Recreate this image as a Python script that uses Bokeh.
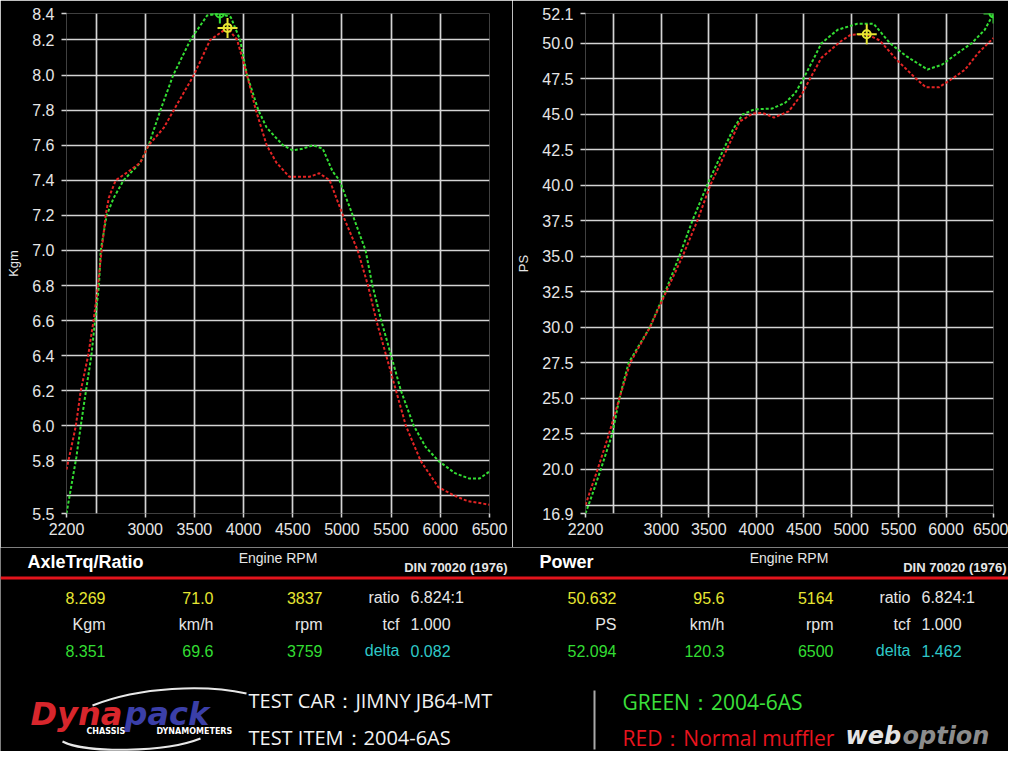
from bokeh.plotting import figure
from bokeh.layouts import column, row
from bokeh.models import Range1d, FixedTicker
from bokeh.core.properties import value
from bokeh.embed import file_html
from bokeh.resources import INLINE

# ---------------- data ----------------
rpm_ticks = [2200, 3000, 3500, 4000, 4500, 5000, 5500, 6000, 6500]
rpm_grid = [2500, 3000, 3500, 4000, 4500, 5000, 5500, 6000, 6500]

trq_green_rpm = [2200, 2300, 2345, 2398, 2453, 2490, 2530, 2548, 2608, 2680, 2780, 2950, 3035,
                 3155, 3285, 3460, 3630, 3759, 3870, 3965, 4035, 4150, 4235, 4400, 4500, 4600,
                 4705, 4805, 4905, 4975, 5110, 5240, 5310, 5400, 5500, 5600, 5730, 5850, 5980,
                 6150, 6290, 6400, 6500]
trq_green = [5.50, 5.82, 6.00, 6.20, 6.40, 6.60, 6.80, 7.00, 7.20, 7.30, 7.40, 7.50, 7.60,
             7.80, 8.00, 8.20, 8.34, 8.351, 8.33, 8.20, 8.00, 7.80, 7.70, 7.60, 7.57, 7.58,
             7.60, 7.58, 7.45, 7.40, 7.20, 7.00, 6.80, 6.60, 6.40, 6.20, 6.00, 5.88, 5.80,
             5.73, 5.70, 5.70, 5.74]

trq_red_rpm = [2200, 2250, 2295, 2345, 2420, 2475, 2520, 2557, 2598, 2630, 2700, 2830, 2950,
               3035, 3190, 3290, 3495, 3660, 3837, 3935, 4035, 4125, 4235, 4335, 4465, 4670,
               4770, 4875, 5010, 5160, 5265, 5350, 5450, 5550, 5650, 5800, 5980, 6150, 6280,
               6400, 6500]
trq_red = [5.75, 5.88, 6.00, 6.20, 6.40, 6.60, 6.80, 7.00, 7.20, 7.30, 7.40, 7.45, 7.50,
           7.60, 7.70, 7.80, 8.00, 8.20, 8.269, 8.20, 8.00, 7.80, 7.60, 7.50, 7.42, 7.42,
           7.44, 7.40, 7.20, 7.00, 6.80, 6.60, 6.40, 6.20, 6.00, 5.80, 5.65, 5.60, 5.57,
           5.56, 5.55]

pwr_green_rpm = [2200, 2280, 2361, 2482, 2557, 2654, 2878, 3040, 3188, 3326, 3481, 3653, 3760,
                 3859, 3980, 4166, 4307, 4411, 4496, 4600, 4686, 4858, 5065, 5237, 5409, 5581,
                 5805, 5960, 6120, 6270, 6408, 6500]
pwr_green = [16.9, 18.4, 20.0, 22.5, 25.0, 27.5, 30.0, 32.5, 35.0, 37.5, 40.0, 42.5, 44.0,
             45.0, 45.35, 45.4, 45.82, 46.5, 47.5, 48.85, 50.0, 50.95, 51.37, 51.37, 50.0, 49.09,
             48.15, 48.5, 49.3, 50.0, 50.95, 52.094]

pwr_red_rpm = [2200, 2327, 2448, 2557, 2671, 2878, 3050, 3223, 3378, 3515, 3688, 3825, 3963,
               4066, 4186, 4341, 4479, 4566, 4686, 4892, 4996, 5164, 5300, 5478, 5685, 5788,
               5925, 6064, 6201, 6339, 6500]
pwr_red = [17.5, 20.0, 22.5, 25.0, 27.5, 30.0, 32.5, 35.0, 37.5, 40.0, 42.5, 44.49, 45.05,
           45.1, 44.77, 45.2, 46.4, 47.5, 48.97, 50.14, 50.6, 50.632, 50.2, 48.85, 47.5, 46.9,
           46.9, 47.5, 48.15, 49.32, 50.37]

trq_inner_ticks = [5.8, 6.0, 6.2, 6.4, 6.6, 6.8, 7.0, 7.2, 7.4, 7.6, 7.8, 8.0, 8.2]
trq_end_labels = ["5.5", "8.4"]
trq_grid = [5.6, 5.8, 6.0, 6.2, 6.4, 6.6, 6.8, 7.0, 7.2, 7.4, 7.6, 7.8, 8.0, 8.2]

pwr_inner_ticks = [20.0, 22.5, 25.0, 27.5, 30.0, 32.5, 35.0, 37.5, 40.0, 42.5, 45.0, 47.5, 50.0]
pwr_end_labels = ["16.9", "52.1"]
pwr_grid = [17.45, 20.0, 22.5, 25.0, 27.5, 30.0, 32.5, 35.0, 37.5, 40.0, 42.5, 45.0, 47.5, 50.0]

# cursor readouts: value, km/h, rpm
trq_red_cursor = [8.269, 71.0, 3837]
trq_green_cursor = [8.351, 69.6, 3759]
pwr_red_cursor = [50.632, 95.6, 5164]
pwr_green_cursor = [52.094, 120.3, 6500]
ratio_text = "6.824:1"
tcf_value = 1.000
trq_delta = 0.082
pwr_delta = 1.462

# ---------------- style ----------------
BG = "#000000"
GRID = "#d4d4d4"
TXT = "#e6e6e6"
GREEN = "#33dd33"
RED = "#e42424"
YELLOW = "#e6e632"
CYAN = "#2ec8c8"
NARROW = "'Liberation Sans Narrow', 'Arial Narrow', 'Liberation Sans', sans-serif"
SANS = "Liberation Sans"
H_PLOT = 547


def make_chart(xg, yg, xr, yr, inner, end_labels, grid_vals, ylabel, width, mbl, mbr,
               cur_r, cur_g):
    ymin = min(min(yg), min(yr))
    ymax = max(max(yg), max(yr))
    p = figure(width=width, height=H_PLOT, x_range=Range1d(2200, 6500),
               y_range=Range1d(ymin, ymax), output_backend="svg", toolbar_location=None,
               min_border_left=mbl, min_border_right=mbr, min_border_top=13,
               min_border_bottom=H_PLOT - 513, background_fill_color=BG,
               border_fill_color=BG, outline_line_color=None)
    # grid
    p.xgrid.ticker = FixedTicker(ticks=rpm_grid)
    p.ygrid.ticker = FixedTicker(ticks=grid_vals)
    p.grid.grid_line_color = GRID
    p.grid.grid_line_width = 1.7
    # x axis
    p.xaxis.ticker = FixedTicker(ticks=rpm_ticks)
    # y axis
    yt = [ymin] + inner + [ymax]
    ylbl = [end_labels[0]] + ["%.1f" % t for t in inner] + [end_labels[1]]
    p.yaxis.ticker = FixedTicker(ticks=yt)
    p.yaxis.major_label_overrides = {t: s for t, s in zip(yt, ylbl)}
    p.yaxis.axis_label = ylabel
    for ax in (p.xaxis, p.yaxis):
        ax.axis_line_color = None
        ax.major_tick_line_color = GRID
        ax.major_tick_line_width = 1.5
        ax.major_tick_in = 0
        ax.minor_tick_line_color = None
        ax.major_label_text_font = NARROW
        ax.major_label_text_font_size = "16px"
        ax.major_label_text_color = TXT
        ax.axis_label_text_font = NARROW
        ax.axis_label_text_font_style = "normal"
        ax.axis_label_text_color = TXT
    p.xaxis.major_tick_out = 4
    p.xaxis.major_label_standoff = 5
    p.yaxis.major_tick_out = 5
    p.yaxis.major_label_standoff = 7
    p.yaxis.axis_label_text_font_size = "13px"
    p.yaxis.axis_label_standoff = 8

    # curves
    p.line(xg, yg, line_color=GREEN, line_width=2, line_dash="3 2")
    p.line(xr, yr, line_color=RED, line_width=2, line_dash="3 2")

    # cursor markers
    p.scatter([cur_g[2]], [cur_g[0]], marker="cross", size=20, line_color=GREEN, line_width=2)
    p.scatter([cur_g[2]], [cur_g[0]], marker="circle", size=8, fill_color=None,
              line_color=GREEN, line_width=2)
    p.scatter([cur_r[2]], [cur_r[0]], marker="cross", size=20, line_color=YELLOW, line_width=2)
    p.scatter([cur_r[2]], [cur_r[0]], marker="circle", size=8, fill_color=None,
              line_color=YELLOW, line_width=2)
    return p


p1 = make_chart(trq_green_rpm, trq_green, trq_red_rpm, trq_red, trq_inner_ticks,
                trq_end_labels, trq_grid, "Kgm", 512, 66, 23, trq_red_cursor, trq_green_cursor)
p2 = make_chart(pwr_green_rpm, pwr_green, pwr_red_rpm, pwr_red, pwr_inner_ticks,
                pwr_end_labels, pwr_grid, "PS", 496, 73, 15, pwr_red_cursor, pwr_green_cursor)

# ---------------- info panel (coordinates = picture pixels) ----------------
info = figure(width=1008, height=204, x_range=Range1d(0, 1008), y_range=Range1d(751, 547),
              output_backend="svg", toolbar_location=None, x_axis_type=None, y_axis_type=None,
              min_border=0, min_border_left=0, min_border_right=0, min_border_top=0,
              min_border_bottom=0, background_fill_color=BG, border_fill_color=BG,
              outline_line_color=None)
info.grid.visible = False


def put(xs, ys, texts, colors, size, font, align="left", style="normal"):
    info.text(x=xs, y=ys, text=texts, text_color=colors, text_font=value(font),
              text_font_size=size, text_font_style=style, text_align=align,
              text_baseline="middle")


# axis titles, section titles, standard
put([277.5, 788.5], [557.5, 557.5], ["Engine RPM", "Engine RPM"], [TXT, TXT], "14px", NARROW,
    "center")
put([27, 539], [561, 561], ["AxleTrq/Ratio", "Power"], ["#ffffff", "#ffffff"], "18px", SANS,
    "left", "bold")
put([507, 1006], [566.5, 566.5], ["DIN 70020 (1976)", "DIN 70020 (1976)"], [TXT, TXT],
    "13px", SANS, "right", "bold")
info.segment(x0=[0], y0=[577.5], x1=[1008], y1=[577.5], line_color="#e3141c", line_width=3)

row_y = [597, 623.5, 650]
for off, unit, red_c, green_c, delta in ((0, "Kgm", trq_red_cursor, trq_green_cursor, trq_delta),
                                         (511, "PS", pwr_red_cursor, pwr_green_cursor, pwr_delta)):
    cols = [105 + off, 213 + off, 322 + off, 399 + off]
    vx = 410 + off
    r1 = ["%.3f" % red_c[0], "%.1f" % red_c[1], "%d" % red_c[2], "ratio"]
    r2 = [unit, "km/h", "rpm", "tcf"]
    r3 = ["%.3f" % green_c[0], "%.1f" % green_c[1], "%d" % green_c[2], "delta"]
    put(cols, [row_y[0]] * 4, r1, [YELLOW, YELLOW, YELLOW, TXT], "16px", SANS, "right")
    put(cols, [row_y[1]] * 4, r2, [TXT] * 4, "16px", SANS, "right")
    put(cols, [row_y[2]] * 4, r3, [GREEN, GREEN, GREEN, CYAN], "16px", SANS, "right")
    put([vx, vx, vx], row_y, [ratio_text, "%.3f" % tcf_value, "%.3f" % delta],
        [TXT, TXT, CYAN], "16px", SANS, "left")

# test description
put([248, 248], [700, 737], ["TEST CAR：JIMNY JB64-MT", "TEST ITEM：2004-6AS"],
    ["#f2f2f2", "#f2f2f2"], "20px", "Open Sans")
info.segment(x0=[594], y0=[690], x1=[594], y1=[749], line_color="#a8a8a8", line_width=2)
put([622, 622], [701, 737], ["GREEN：2004-6AS", "RED：Normal muffler"],
    ["#3be03b", "#e8141e"], "21px", "Open Sans")

# Dynapack logo
info.bezier(x0=[92, 62], y0=[705, 741], x1=[246, 200], y1=[693, 738],
            cx0=[140, 85], cy0=[686, 753], cx1=[205, 165], cy1=[684, 752],
            line_color="#e8e8e8", line_width=2)
put([30], [713], ["Dyna"], ["#d8262c"], "32px", "DejaVu Sans", "left", "bold italic")
put([124], [713], ["pack"], ["#3b3fa8"], "32px", "DejaVu Sans", "left", "bold italic")
put([86, 156], [731, 731], ["CHASSIS", "DYNAMOMETERS"], ["#ffffff", "#ffffff"], "8px",
    "DejaVu Sans", "left", "bold")

# web option mark
put([845], [735], ["web"], ["#e4e4e4"], "24px", "DejaVu Sans", "left", "bold italic")
put([902], [735], ["option"], ["#8c8c8c"], "24px", "DejaVu Sans", "left", "bold italic")

layout = column(row(p1, p2), info)
open("out.html", "w").write(file_html(layout, INLINE))
